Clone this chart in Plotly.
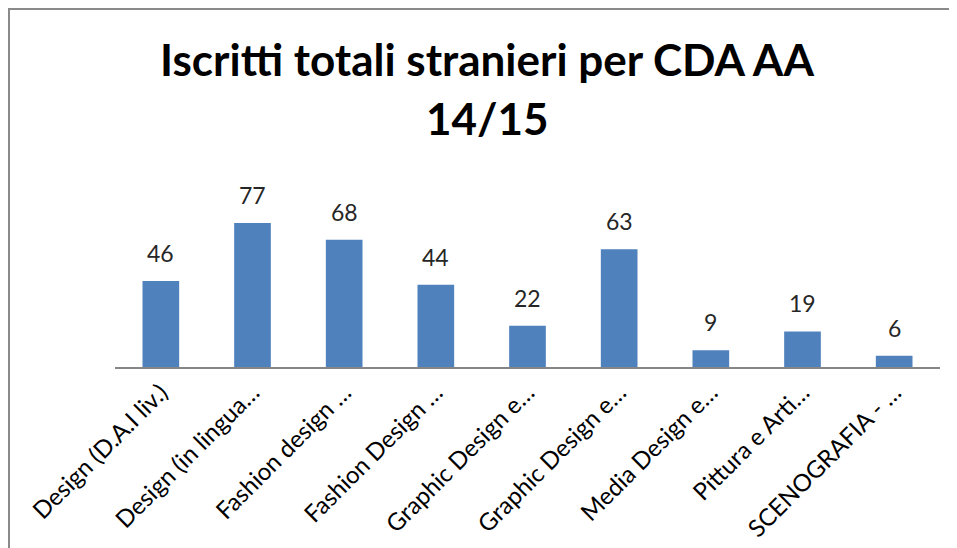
import plotly.graph_objects as go

categories = ["Design (D.A.I liv.)", "Design (in lingua…", "Fashion design …",
              "Fashion Design …", "Graphic Design e…", "Graphic Design e…",
              "Media Design e…", "Pittura e Arti…", "SCENOGRAFIA - …"]
values = [46, 77, 68, 44, 22, 63, 9, 19, 6]
positions = list(range(len(categories)))

FONT = "Lato"
BAR = "#4F81BD"

# geometry (figure pixels; page body adds an 8px offset)
W, H = 949, 540
L, R, T, B = 107, 17, 172, 181
PW, PH = W - L - R, H - T - B


def px_x(p):
    return (p - L) / PW


def px_y(p):
    return (H - B - p) / PH


fig = go.Figure()
fig.add_trace(go.Bar(x=positions, y=values, marker=dict(color=BAR, line=dict(width=0)),
                     hoverinfo="skip"))

for xv, v in zip(positions, values):
    fig.add_annotation(x=xv, y=v, text=str(v), showarrow=False, xref="x", yref="y",
                       yanchor="bottom", yshift=12,
                       font=dict(family=FONT, size=23, color="#262626"))

fig.add_annotation(text="<b>14/15</b>", xref="paper", yref="paper", x=px_x(479),
                   y=px_y(110), yanchor="middle", xanchor="center", showarrow=False,
                   font=dict(family=FONT, size=44, color="#000000"))

# chart-area border: left and top edges only (others fall outside the frame)
fig.add_shape(type="path", xref="paper", yref="paper",
              path=f"M {px_x(1)} {px_y(H + 10)} L {px_x(1)} {px_y(1)} L {px_x(W + 10)} {px_y(1)}",
              line=dict(color="#8a8a8a", width=2), layer="below")

fig.update_layout(
    width=W, height=H,
    margin=dict(l=L, r=R, t=T, b=B, autoexpand=False),
    paper_bgcolor="white", plot_bgcolor="white",
    showlegend=False,
    bargap=0.6,
    title=dict(text="<b>Iscritti totali stranieri per CDA AA</b>", x=479 / W,
               xref="container", xanchor="center", yref="container", y=1 - 53 / H,
               yanchor="middle",
               font=dict(family=FONT, size=44, color="#000000")),
    xaxis=dict(tickmode="array", tickvals=positions, ticktext=categories,
               tickangle=-45, tickfont=dict(family=FONT, size=24, color="#000000"),
               showline=True, linecolor="#868686", linewidth=2, ticks="",
               showgrid=False, zeroline=False, automargin=False,
               range=[-0.5, len(categories) - 0.5]),
    yaxis=dict(visible=False, range=[0, 100]),
)

fig.write_html("out.html", config={"displayModeBar": False})
